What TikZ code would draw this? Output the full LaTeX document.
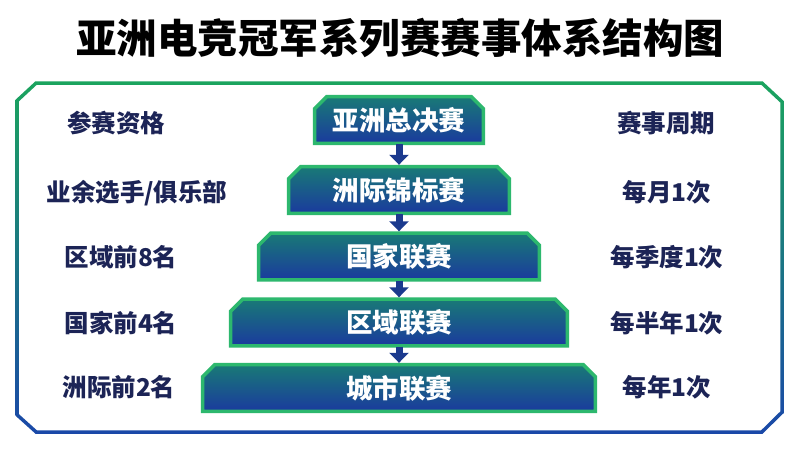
\documentclass[tikz,border=0pt]{standalone}
\usepackage{fontspec}
\setmainfont{Noto Sans CJK SC}
\usetikzlibrary{calc,arrows.meta}
\pgfdeclarelayer{paper}
\pgfdeclarelayer{background}
\pgfsetlayers{paper,background,main}
\definecolor{framegreen}{HTML}{1BA45E}
\definecolor{frameblue}{HTML}{1A48A8}
\definecolor{boxgreen}{HTML}{2DB86E}
\definecolor{boxtop}{HTML}{197A76}
\definecolor{boxbot}{HTML}{1A3A9E}
\definecolor{arrowblue}{HTML}{1B3A8E}
\definecolor{labelnavy}{HTML}{1C2456}
\newcommand\tiershape[1]{%
  \shadedraw[draw=boxgreen, line width=3.5pt, line join=miter, top color=boxtop, bottom color=boxbot]
    ($(#1.south west)+(1.75,-1.75)$) -- ($(#1.north west)+(1.75,14)$) -- ($(#1.north west)+(14,1.75)$)
    -- ($(#1.north east)+(-14,1.75)$) -- ($(#1.north east)+(-1.75,14)$) -- ($(#1.south east)+(-1.75,-1.75)$) -- cycle;}
\begin{document}
\begin{tikzpicture}[x=1pt,y=-1pt,
  tier/.style={inner sep=0pt, minimum height=50pt, text=white, font=\fontsize{26.5}{26.5}\selectfont\bfseries},
  lab/.style={text=labelnavy, inner sep=0pt, font=\fontsize{24.5}{24.5}\selectfont\bfseries},
  flow/.style={draw=arrowblue, line width=7pt, -{Triangle[width=19pt,length=10pt]}, shorten <=-1pt}]
\useasboundingbox (0,0) rectangle (800,450);
\begin{pgfonlayer}{paper}
\fill[white] (0,0) rectangle (800,450);
\end{pgfonlayer}
% title
\node[font=\fontsize{40.5}{40.5}\selectfont\bfseries, inner sep=0pt] (title) at (400,38) {亚洲电竞冠军系列赛赛事体系结构图};
% frame
\shade[top color=framegreen, bottom color=frameblue, even odd rule]
  (15.25,100) -- (15.25,415.5) -- (35.5,433.75) -- (762.5,433.75) -- (783.75,413) -- (783.75,101) -- (762.5,81.25) -- (35.5,81.25) -- cycle
  (18.75,101.5) -- (18.75,414) -- (36.8,430.25) -- (761.2,430.25) -- (780.25,411.5) -- (780.25,102.5) -- (761.2,84.75) -- (36.8,84.75) -- cycle;
% tiers
\node[tier, minimum width=172pt] (b1) at (399,120) {亚洲总决赛};
\node[tier, minimum width=224pt] (b2) at (399,190) {洲际锦标赛};
\node[tier, minimum width=284pt] (b3) at (399,256.5) {国家联赛};
\node[tier, minimum width=340pt] (b4) at (399,322.5) {区域联赛};
\node[tier, minimum width=396pt] (b5) at (399,388) {城市联赛};
\begin{pgfonlayer}{background}
\tiershape{b1}\tiershape{b2}\tiershape{b3}\tiershape{b4}\tiershape{b5}
\end{pgfonlayer}
\draw[flow] (b1.south) -- (b2.north);
\draw[flow] (b2.south) -- (b3.north);
\draw[flow] (b3.south) -- (b4.north);
\draw[flow] (b4.south) -- (b5.north);
% left labels
\node[lab] (l0) at (116,123) {参赛资格};
\node[lab] (l1) at (137,193) {业余选手/俱乐部};
\node[lab] (l2) at (121,257) {区域前8名};
\node[lab] (l3) at (121,323) {国家前4名};
\node[lab] (l4) at (119,387) {洲际前2名};
% right labels
\node[lab] (r0) at (666,123) {赛事周期};
\node[lab] (r1) at (667,192) {每月1次};
\node[lab] (r2) at (667,257) {每季度1次};
\node[lab] (r3) at (667,323) {每半年1次};
\node[lab] (r4) at (667,387) {每年1次};
\end{tikzpicture}
\end{document}
